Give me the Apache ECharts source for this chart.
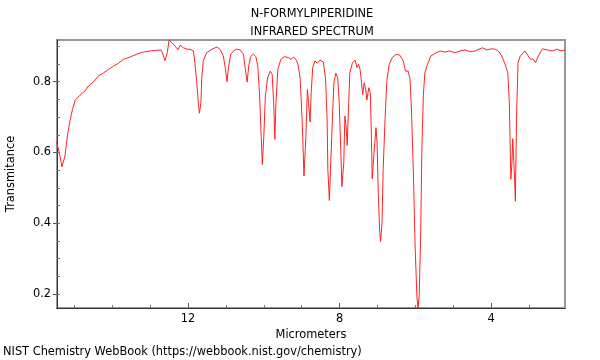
<!DOCTYPE html>
<html>
<head>
<meta charset="utf-8">
<script src="https://cdn.jsdelivr.net/npm/echarts@6/dist/echarts.min.js"></script>
<style>html,body{margin:0;padding:0;background:#fff}#main{width:600px;height:360px}</style>
</head>
<body>
<div id="main"></div>
<script>
const wavelength = [15.47,15.40,15.33,15.29,15.25,15.18,15.11,15.05,14.98,14.85,14.72,14.63,14.50,14.37,14.23,14.10,13.97,13.84,13.71,13.53,13.35,13.18,13.00,12.83,12.71,12.65,12.61,12.55,12.50,12.43,12.34,12.27,12.21,12.12,12.03,11.95,11.86,11.82,11.77,11.73,11.70,11.66,11.64,11.60,11.51,11.37,11.24,11.16,11.07,11.02,10.97,10.93,10.87,10.80,10.72,10.63,10.54,10.50,10.44,10.40,10.35,10.28,10.21,10.16,10.11,10.07,10.04,10.00,9.96,9.90,9.83,9.78,9.74,9.71,9.68,9.63,9.55,9.46,9.35,9.28,9.21,9.13,9.09,9.04,8.99,8.94,8.89,8.85,8.82,8.78,8.75,8.71,8.65,8.59,8.52,8.43,8.37,8.33,8.31,8.27,8.24,8.19,8.15,8.10,8.05,8.01,7.97,7.94,7.89,7.86,7.83,7.80,7.76,7.73,7.66,7.59,7.54,7.50,7.46,7.42,7.39,7.35,7.31,7.28,7.23,7.19,7.16,7.14,7.09,7.04,7.01,6.98,6.94,6.92,6.88,6.85,6.80,6.75,6.69,6.61,6.51,6.41,6.32,6.26,6.22,6.19,6.14,6.10,6.05,6.01,5.96,5.93,5.90,5.86,5.83,5.79,5.75,5.68,5.59,5.48,5.35,5.22,5.09,4.96,4.82,4.69,4.55,4.42,4.32,4.23,4.11,4.00,3.89,3.81,3.72,3.63,3.56,3.52,3.48,3.45,3.43,3.39,3.36,3.33,3.29,3.23,3.11,3.02,2.96,2.90,2.83,2.76,2.65,2.52,2.39,2.26,2.15,2.05];
const transmittance = [0.629,0.600,0.559,0.559,0.590,0.651,0.694,0.722,0.748,0.762,0.774,0.788,0.799,0.816,0.825,0.835,0.844,0.852,0.863,0.870,0.878,0.884,0.887,0.889,0.890,0.873,0.859,0.882,0.918,0.910,0.901,0.890,0.903,0.896,0.892,0.892,0.887,0.854,0.797,0.741,0.711,0.741,0.807,0.859,0.882,0.892,0.898,0.892,0.873,0.840,0.800,0.844,0.878,0.887,0.892,0.890,0.878,0.844,0.799,0.844,0.871,0.878,0.871,0.844,0.760,0.646,0.566,0.646,0.760,0.811,0.830,0.821,0.741,0.637,0.741,0.835,0.863,0.871,0.868,0.863,0.870,0.859,0.844,0.807,0.694,0.533,0.646,0.778,0.741,0.686,0.769,0.840,0.859,0.852,0.861,0.856,0.807,0.694,0.552,0.464,0.552,0.694,0.797,0.824,0.811,0.741,0.609,0.503,0.571,0.703,0.675,0.620,0.741,0.825,0.854,0.861,0.840,0.849,0.835,0.797,0.764,0.797,0.778,0.748,0.783,0.769,0.646,0.526,0.600,0.670,0.627,0.486,0.373,0.347,0.401,0.552,0.694,0.807,0.849,0.868,0.878,0.875,0.859,0.830,0.835,0.830,0.807,0.712,0.533,0.345,0.194,0.155,0.194,0.363,0.600,0.760,0.825,0.849,0.873,0.880,0.887,0.884,0.887,0.882,0.887,0.890,0.885,0.887,0.892,0.896,0.890,0.893,0.892,0.887,0.873,0.849,0.825,0.741,0.524,0.571,0.639,0.552,0.462,0.694,0.854,0.873,0.887,0.873,0.863,0.865,0.854,0.871,0.893,0.890,0.887,0.892,0.887,0.890];
const xMajorTicks = [12, 8, 4];
const xMinorTicks = [3, 5, 6, 7, 9, 10, 11, 13, 14, 15];
const yMajorTicks = [0.2, 0.4, 0.6, 0.8];
const yMinorTicks = [0.2, 0.25, 0.3, 0.35, 0.4, 0.45, 0.5, 0.55, 0.6, 0.65, 0.7, 0.75, 0.8, 0.85, 0.9];
const titleLines = ['N-FORMYLPIPERIDINE', 'INFRARED SPECTRUM'];
const xName = 'Micrometers';
const yName = 'Transmitance';
const footer = 'NIST Chemistry WebBook (https://webbook.nist.gov/chemistry)';

const X_MIN = 2.05, X_MAX = 15.46, Y_MIN = 0.16, Y_MAX = 0.918;
const FONT = 'DejaVu Sans';
const FS = 11.4;
const data = wavelength.map((w, i) => [w, transmittance[i]]);

const chart = echarts.init(document.getElementById('main'), null, {renderer: 'canvas'});
chart.setOption({
  animation: false,
  backgroundColor: '#fff',
  textStyle: {fontFamily: FONT},
  title: {
    text: titleLines.join('\n'),
    left: 307, top: 0, textAlign: 'center',
    textStyle: {fontSize: FS, fontWeight: 'normal', color: '#000', lineHeight: 18, fontFamily: FONT}
  },
  graphic: [{
    type: 'text', left: 3, top: 347,
    style: {text: footer, fontSize: FS, fill: '#000', fontFamily: FONT}
  }],
  grid: {left: 57, right: 35, top: 40, bottom: 52, show: true, borderColor: '#999', borderWidth: 2,
         backgroundColor: 'transparent', containLabel: false, outerBoundsMode: 'none'},
  xAxis: [{
    type: 'value', min: X_MIN, max: X_MAX, inverse: true, position: 'bottom',
    name: xName, nameLocation: 'middle', nameGap: 17,
    nameTextStyle: {fontSize: FS, color: '#000', fontFamily: FONT},
    axisLine: {show: true, lineStyle: {color: '#333', width: 1}},
    axisTick: {show: true, inside: true, length: 5, customValues: xMajorTicks, lineStyle: {color: '#555'}},
    axisLabel: {show: true, customValues: xMajorTicks, margin: 6, fontSize: FS, color: '#000', fontFamily: FONT},
    splitLine: {show: false}
  }, {
    type: 'value', min: X_MIN, max: X_MAX, inverse: true, position: 'bottom', offset: 0,
    axisLine: {show: false},
    axisTick: {show: true, inside: true, length: 3, customValues: xMinorTicks, lineStyle: {color: '#777'}},
    axisLabel: {show: false},
    splitLine: {show: false}
  }],
  yAxis: [{
    type: 'value', min: Y_MIN, max: Y_MAX, position: 'left',
    name: yName, nameLocation: 'middle', nameGap: 40,
    nameTextStyle: {fontSize: FS, color: '#000', fontFamily: FONT},
    axisLine: {show: true, lineStyle: {color: '#333', width: 1}},
    axisTick: {show: true, inside: false, length: 4, customValues: yMajorTicks, lineStyle: {color: '#555'}},
    axisLabel: {show: true, customValues: yMajorTicks, margin: 6, fontSize: FS, color: '#000', fontFamily: FONT},
    splitLine: {show: false}
  }, {
    type: 'value', min: Y_MIN, max: Y_MAX, position: 'left', offset: 0,
    axisLine: {show: false},
    axisTick: {show: true, inside: true, length: 3, customValues: yMinorTicks, lineStyle: {color: '#777'}},
    axisLabel: {show: false},
    splitLine: {show: false}
  }],
  series: [{
    type: 'line', data: data, xAxisIndex: 0, yAxisIndex: 0,
    showSymbol: false, symbol: 'none', smooth: false, clip: true,
    lineStyle: {color: '#ff2222', width: 1},
    emphasis: {disabled: true}
  }]
});
</script>
</body>
</html>
